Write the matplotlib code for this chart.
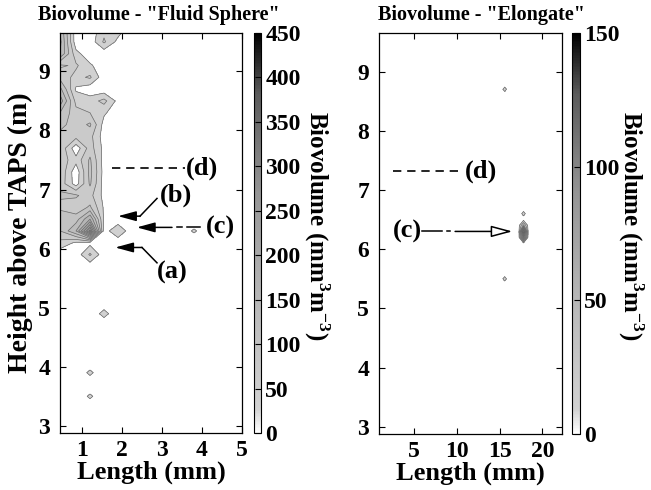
import numpy as np
import matplotlib
matplotlib.use('Agg')
import matplotlib.pyplot as plt
from matplotlib.colors import LinearSegmentedColormap, Normalize
import matplotlib.cm as cm

plt.rcParams['font.family'] = ['Liberation Serif', 'DejaVu Serif']
plt.rcParams['font.weight'] = 'bold'
plt.rcParams['mathtext.fontset'] = 'custom'
plt.rcParams['mathtext.rm'] = 'Liberation Serif:bold'
plt.rcParams['mathtext.it'] = 'Liberation Serif:bold'
plt.rcParams['mathtext.bf'] = 'Liberation Serif:bold'
plt.rcParams['mathtext.default'] = 'rm'

# ---------------- data: "Fluid Sphere" biovolume (mm^3 m^-3) ----------------
fs_body_len = [0.45, 0.85, 1.2, 1.55, 1.9, 2.25]
fs_body_hgt = [9.7, 9.5, 9.3, 9.1, 8.9, 8.7, 8.5, 8.3, 8.1, 7.9, 7.7,
               7.5, 7.3, 7.1, 6.9, 6.7, 6.5, 6.3, 6.1, 5.9, 5.7]
fs_body_val = [
    [140,   0,   0, 40, 35, 0],   # 9.7
    [150,   0,   0, 55, 10, 0],   # 9.5
    [140,  30,   0,  0,  0, 0],   # 9.3
    [ 45,  55,  25,  0,  0, 0],   # 9.1
    [ 70,  40,  55,  0,  0, 0],   # 8.9
    [120,  15,   0,  0,  0, 0],   # 8.7
    [160,  40,  35, 60, 10, 0],   # 8.5
    [110,  60,  50, 25,  0, 0],   # 8.3
    [ 90,  65,  85,  8,  0, 0],   # 8.1
    [ 70,  60,  60,  5,  0, 0],   # 7.9
    [ 75,   0,  65, 10,  0, 0],   # 7.7
    [ 70,  30,  85,  5,  0, 0],   # 7.5
    [ 75,   0,  90,  8,  0, 0],   # 7.3
    [ 70,   5,  85,  5,  0, 0],   # 7.1
    [ 85,  85,  60, 10,  0, 0],   # 6.9
    [ 70,  60,  85, 15,  0, 0],   # 6.7
    [110,  95, 170, 15,  0, 0],   # 6.5
    [ 80, 140, 300,  5, 45, 0],   # 6.3
    [ 40,  15,  10,  0,  0, 0],   # 6.1
    [  0,   0,  55,  0,  0, 0],   # 5.9
    [  0,   0,   0,  0,  0, 0],   # 5.7
]
fs_far_len = [2.6, 3.0, 3.4, 3.8, 4.2, 4.6, 5.05]
fs_spot_len = [1.55, 1.2, 1.2, 3.8]
fs_spot_hgt = [4.9, 3.9, 3.5, 6.3]
fs_spot_val = [30, 26, 25, 24]

# ---------------- data: "Elongate" biovolume (mm^3 m^-3) ----------------
el_spot_len = [17.8, 17.8, 17.8, 17.8, 15.6, 15.6]
el_spot_hgt = [6.2, 6.3, 6.4, 6.6, 8.7, 5.5]
el_spot_val = [90, 150, 40, 8, 8, 8]

fs_levels = [20, 50, 80, 110, 140, 170, 200, 230, 260, 290, 320, 350, 400, 450]
el_levels = [5, 20, 35, 50, 65, 80, 95, 110, 125, 140, 155]
fs_cbar_ticks = [0, 50, 100, 150, 200, 250, 300, 350, 400, 450]
el_cbar_ticks = [0, 50, 100, 150]

# ---------------- build grids ----------------
fs_grid_len = np.array(fs_body_len + fs_far_len)
fs_grid_hgt = np.round(np.arange(2.9, 9.71, 0.2), 2)
fs_Z = np.zeros((len(fs_grid_hgt), len(fs_grid_len)))
for i, h in enumerate(fs_body_hgt):
    r = int(np.argmin(np.abs(fs_grid_hgt - h)))
    for j, v in enumerate(fs_body_val[i]):
        fs_Z[r, j] = v
for L, h, v in zip(fs_spot_len, fs_spot_hgt, fs_spot_val):
    r = int(np.argmin(np.abs(fs_grid_hgt - h)))
    c = int(np.argmin(np.abs(fs_grid_len - L)))
    fs_Z[r, c] = v

el_grid_len = np.round(17.8 + 0.55 * np.arange(-31, 10), 3)
el_grid_hgt = np.round(np.arange(2.8, 9.81, 0.1), 2)
el_Z = np.zeros((len(el_grid_hgt), len(el_grid_len)))
for L, h, v in zip(el_spot_len, el_spot_hgt, el_spot_val):
    r = int(np.argmin(np.abs(el_grid_hgt - h)))
    c = int(np.argmin(np.abs(el_grid_len - L)))
    el_Z[r, c] = v

cmap = LinearSegmentedColormap.from_list(
    'bv', [(0.0, '#ffffff'), (0.06, '#d2d2d2'), (0.3, '#bbbbbb'),
           (0.6, '#959595'), (0.85, '#5a5a5a'), (1.0, '#000000')])

fig = plt.figure(figsize=(6.51, 4.90), dpi=100)
W, H = 651.0, 490.0

def fax(x0, x1, y0, y1):
    return [x0 / W, 1 - y1 / H, (x1 - x0) / W, (y1 - y0) / H]

ax1 = fig.add_axes(fax(60, 242, 33, 433))
cax1 = fig.add_axes(fax(254, 261, 33, 433))
ax2 = fig.add_axes(fax(379, 562, 33, 434))
cax2 = fig.add_axes(fax(572, 580, 33, 434))

TICK_FS = 17
LAB_FS = 19
CB_FS = 18
ANN_FS = 19
LINE_COL = '#6a6a6a'
CB_LABEL = 'Biovolume (mm$^3$m$^{-3}$)'

def style_axes(ax):
    ax.tick_params(direction='in', length=4, width=0.8, top=True, right=True,
                   labelsize=TICK_FS)
    ax.tick_params(axis='y', pad=7)
    ax.tick_params(axis='x', pad=5)
    for s in ax.spines.values():
        s.set_linewidth(0.9)
    for lab in ax.get_xticklabels() + ax.get_yticklabels():
        lab.set_fontweight('bold')

def style_cbar(cb):
    cb.ax.tick_params(direction='in', length=4, width=0.8, labelsize=TICK_FS, pad=3)
    cb.outline.set_linewidth(0.8)

# ---- left panel ----
norm1 = Normalize(0, 450)
ax1.contourf(fs_grid_len, fs_grid_hgt, fs_Z, levels=fs_levels, cmap=cmap, norm=norm1)
ax1.contour(fs_grid_len, fs_grid_hgt, fs_Z, levels=fs_levels, colors=LINE_COL, linewidths=0.5)
ax1.set_xlim(0.45, 5.0)
ax1.set_ylim(2.88, 9.65)
ax1.set_xticks([1, 2, 3, 4, 5])
ax1.set_yticks([3, 4, 5, 6, 7, 8, 9])
style_axes(ax1)
ax1.set_xlabel('Length (mm)', fontsize=LAB_FS, fontweight='bold', labelpad=0)
ax1.set_ylabel('Height above TAPS (m)', fontsize=20, fontweight='bold', labelpad=4)

cb1 = fig.colorbar(cm.ScalarMappable(norm=norm1, cmap=cmap), cax=cax1, ticks=fs_cbar_ticks)
style_cbar(cb1)
fig.text(317 / W, 1 - 226 / H, CB_LABEL, fontsize=CB_FS, fontweight='bold',
         rotation=270, ha='center', va='center')

# annotations left
arw = dict(arrowstyle='-|>,head_length=1.1,head_width=0.3', color='k', lw=1.1,
           mutation_scale=10, shrinkA=0, shrinkB=0)
ax1.plot([1.75, 3.57], [7.36, 7.36], color='k', lw=1.2, dashes=(5, 3.5))
ax1.text(3.6, 7.36, '(d)', fontsize=ANN_FS, fontweight='bold', ha='left', va='center')
# (b)
ax1.plot([2.875, 2.45], [6.85, 6.55], color='k', lw=1.1)
ax1.annotate('', xy=(1.9, 6.55), xytext=(2.45, 6.55), arrowprops=arw)
ax1.text(3.35, 6.9, '(b)', fontsize=ANN_FS, fontweight='bold', ha='center', va='center')
# (c)
ax1.annotate('', xy=(2.37, 6.36), xytext=(3.25, 6.36), arrowprops=arw)
ax1.plot([3.37, 3.5], [6.36, 6.36], color='k', lw=1.1)
ax1.plot([3.62, 3.95], [6.36, 6.36], color='k', lw=1.1)
ax1.text(4.45, 6.36, '(c)', fontsize=ANN_FS, fontweight='bold', ha='center', va='center')
# (a)
ax1.plot([2.875, 2.5], [5.76, 6.02], color='k', lw=1.1)
ax1.annotate('', xy=(1.83, 6.02), xytext=(2.5, 6.02), arrowprops=arw)
ax1.text(3.25, 5.6, '(a)', fontsize=ANN_FS, fontweight='bold', ha='center', va='center')

fig.text(159 / W, 1 - 15 / H, 'Biovolume - "Fluid Sphere"', fontsize=14.5,
         fontweight='bold', ha='center', va='center')

# ---- right panel ----
norm2 = Normalize(0, 150)
ax2.contourf(el_grid_len, el_grid_hgt, el_Z, levels=el_levels, cmap=cmap, norm=norm2)
ax2.contour(el_grid_len, el_grid_hgt, el_Z, levels=el_levels, colors=LINE_COL, linewidths=0.5)
ax2.set_xlim(0.9, 22.3)
ax2.set_ylim(2.88, 9.65)
ax2.set_xticks([5, 10, 15, 20])
ax2.set_yticks([3, 4, 5, 6, 7, 8, 9])
style_axes(ax2)
ax2.set_xlabel('Length (mm)', fontsize=LAB_FS, fontweight='bold', labelpad=0)

cb2 = fig.colorbar(cm.ScalarMappable(norm=norm2, cmap=cmap), cax=cax2, ticks=el_cbar_ticks)
style_cbar(cb2)
fig.text(631 / W, 1 - 226 / H, CB_LABEL, fontsize=CB_FS, fontweight='bold',
         rotation=270, ha='center', va='center')

ax2.plot([2.54, 10.6], [7.32, 7.32], color='k', lw=1.2, dashes=(5, 3.5))
ax2.text(10.9, 7.32, '(d)', fontsize=ANN_FS, fontweight='bold', ha='left', va='center')
ax2.text(4.2, 6.3, '(c)', fontsize=ANN_FS, fontweight='bold', ha='center', va='center')
ax2.plot([5.9, 8.3], [6.3, 6.3], color='k', lw=1.1)
ax2.plot([8.9, 9.2], [6.3, 6.3], color='k', lw=1.1)
arw_open = dict(arrowstyle='-|>,head_length=1.3,head_width=0.35', fc='white', ec='k',
                lw=1.1, mutation_scale=10, shrinkA=0, shrinkB=0)
ax2.annotate('', xy=(16.5, 6.3), xytext=(9.8, 6.3), arrowprops=arw_open)

fig.text(481 / W, 1 - 15 / H, 'Biovolume - "Elongate"', fontsize=14.5,
         fontweight='bold', ha='center', va='center')

fig.savefig('out.png', dpi=100)
